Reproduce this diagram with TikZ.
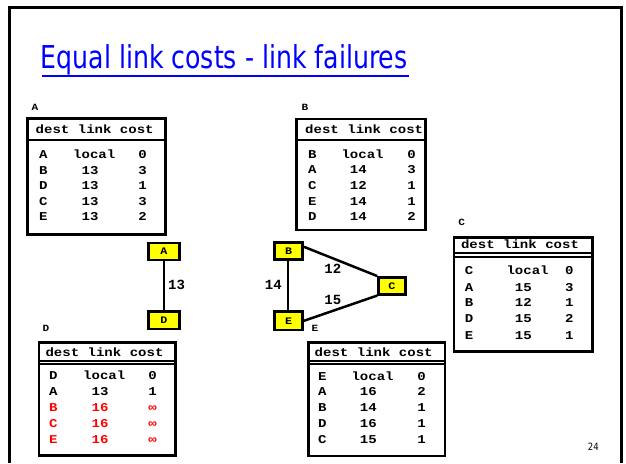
\documentclass[tikz,border=0pt]{standalone}
\usepackage{fontspec}
\newfontfamily\tabfont[FakeStretch=1.17]{Liberation Mono}
\newfontfamily\linkfont{Liberation Mono}
\newfontfamily\titlefont[FakeStretch=0.8]{DejaVu Sans}
\newfontfamily\pagefont[FakeStretch=0.85]{DejaVu Sans}
\definecolor{routeryellow}{RGB}{255,255,0}
\definecolor{titleblue}{RGB}{0,0,255}
\definecolor{badroute}{RGB}{255,0,0}

% one routing-table row: letter, outgoing link, cost
\newcommand\trow[6][black]{%
  \node[cellc,text=#1] (#2d) at (\colD,#3+3.5) {#4};
  \node[celll,text=#1] (#2l) at (\colL,#3+3.5) {#5};
  \node[cellc,text=#1] (#2c) at (\colC,#3+3.5) {#6};}
\newcommand\pad{\phantom{0}}

\tikzset{
  slideframe/.style={line width=3pt},
  tabbox/.style={draw,line width=2.6pt},
  tabsep/.style={line width=2.6pt},
  tabsepthin/.style={line width=2pt},
  tabtxt/.style={inner sep=0pt,font=\tabfont\bfseries\fontsize{12}{14}\selectfont},
  cellc/.style={tabtxt,anchor=base},
  celll/.style={tabtxt,anchor=base west},
  tablabel/.style={inner sep=0pt,font=\tabfont\bfseries\fontsize{9.5}{11}\selectfont},
  router/.style={draw,line width=2.5pt,fill=routeryellow,inner sep=0pt,
    minimum height=17pt,font=\tabfont\bfseries\fontsize{10}{12}\selectfont},
  link/.style={line width=2.5pt},
  linklabel/.style={inner sep=0pt,font=\linkfont\bfseries\fontsize{14}{16}\selectfont},
}

\begin{document}
\begin{tikzpicture}[x=1pt,y=-1pt]
\useasboundingbox (0,0) rectangle (626,463);
\fill[white] (0,0) rectangle (626,463);

% slide frame
\draw[slideframe] (9,463) -- (9,7.5) -- (621.5,7.5) -- (621.5,463);

% title
\node[anchor=base west,inner sep=0pt,text=titleblue,
      font=\titlefont\fontsize{31.5}{36}\selectfont] (title) at (40.5,68.3)
      {Equal link costs - link failures};
\draw[titleblue,line width=1.8pt] (42.3,75.7) -- (409,75.7);

% ---------- table of router A ----------
\node[tablabel] (labA) at (35,107) {A};
\draw[tabbox] (27.3,118.3) rectangle (165.7,234.3);
\draw[tabsep] (27.3,140) -- (165.7,140);
\node[cellc] (hA) at (94.7,133.8) {dest link cost};
\def\colD{43.3}\def\colL{73}\def\colC{142.7}
\trow{a1}{155}{A}{local}{0}
\trow{a2}{171}{B}{\pad13}{3}
\trow{a3}{186}{D}{\pad13}{1}
\trow{a4}{201.5}{C}{\pad13}{3}
\trow{a5}{216.7}{E}{\pad13}{2}

% ---------- table of router B ----------
\node[tablabel] (labB) at (305,107.3) {B};
\draw[tabbox] (296.7,119) rectangle (425.7,230);
\draw[tabsep] (296.7,140) -- (425.7,140);
\node[cellc] (hB) at (364.2,133.8) {dest link cost};
\def\colD{312.3}\def\colL{341.3}\def\colC{411.7}
\trow{b1}{155}{B}{local}{0}
\trow{b2}{170.3}{A}{\pad14}{3}
\trow{b3}{185.7}{C}{\pad12}{1}
\trow{b4}{201.5}{E}{\pad14}{1}
\trow{b5}{217}{D}{\pad14}{2}

% ---------- table of router C ----------
\node[tablabel] (labC) at (461.7,222.3) {C};
\draw[tabbox] (454,237.3) rectangle (592.7,351.7);
\draw[tabsepthin] (454,253.3) -- (592.7,253.3);
\draw[tabsepthin] (454,257.3) -- (592.7,257.3);
\node[cellc] (hC) at (520,248.8) {dest link cost};
\def\colD{469}\def\colL{506.3}\def\colC{569.3}
\trow{c1}{271}{C}{local}{0}
\trow{c2}{287.7}{A}{\pad15}{3}
\trow{c3}{303.3}{B}{\pad12}{1}
\trow{c4}{319}{D}{\pad15}{2}
\trow{c5}{335.5}{E}{\pad15}{1}

% ---------- table of router D ----------
\node[tablabel] (labD) at (46,328.3) {D};
\draw[tabbox] (39,342.7) rectangle (175.7,455.7);
\draw[tabsepthin] (39,360.7) -- (175.7,360.7);
\draw[tabsepthin] (39,364.3) -- (175.7,364.3);
\node[cellc] (hD) at (104.5,356.1) {dest link cost};
\def\colD{53.3}\def\colL{83}\def\colC{152.7}
\trow{d1}{376}{D}{local}{0}
\trow{d2}{391.7}{A}{\pad13}{1}
\trow[badroute]{d3}{408}{B}{\pad16}{∞}
\trow[badroute]{d4}{424}{C}{\pad16}{∞}
\trow[badroute]{d5}{440}{E}{\pad16}{∞}

% ---------- table of router E ----------
\node[tablabel] (labE) at (315,328.3) {E};
\draw[tabbox] (308.3,342.7) rectangle (445,456);
\draw[tabsepthin] (308.3,360.7) -- (445,360.7);
\draw[tabsepthin] (308.3,364.3) -- (445,364.3);
\node[cellc] (hE) at (373.7,356.5) {dest link cost};
\def\colD{322.3}\def\colL{351.3}\def\colC{421.7}
\trow{e1}{376.7}{E}{local}{0}
\trow{e2}{392.3}{A}{\pad16}{2}
\trow{e3}{408.3}{B}{\pad14}{1}
\trow{e4}{424}{D}{\pad16}{1}
\trow{e5}{440}{C}{\pad15}{1}

% ---------- topology ----------
\draw[link] (164,251.3) -- (164,320);
\draw[link] (288,250.8) -- (288,320.8);
\node[router,minimum width=31pt] (A) at (164,251.3) {A};
\node[router,minimum width=31pt,minimum height=17.5pt] (D) at (164,320) {D};
\node[router,minimum width=28pt] (B) at (288.7,250.8) {B};
\node[router,minimum width=28pt,minimum height=18.5pt] (E) at (288.7,320.8) {E};
\node[router,minimum width=27pt] (C) at (392,285.8) {C};
\draw[link] ([yshift=4pt]B.east) -- (C.north west);
\draw[link] (E.east) -- (C.south west);

\node[linklabel] (l13) at (176.6,285) {13};
\node[linklabel] (l14) at (273.3,285) {14};
\node[linklabel] (l12) at (332.8,269.2) {12};
\node[linklabel] (l15) at (332.8,299.8) {15};

% page number
\node[inner sep=0pt,font=\pagefont\fontsize{10}{12}\selectfont] (pg) at (593.3,446.7) {24};
\end{tikzpicture}
\end{document}
